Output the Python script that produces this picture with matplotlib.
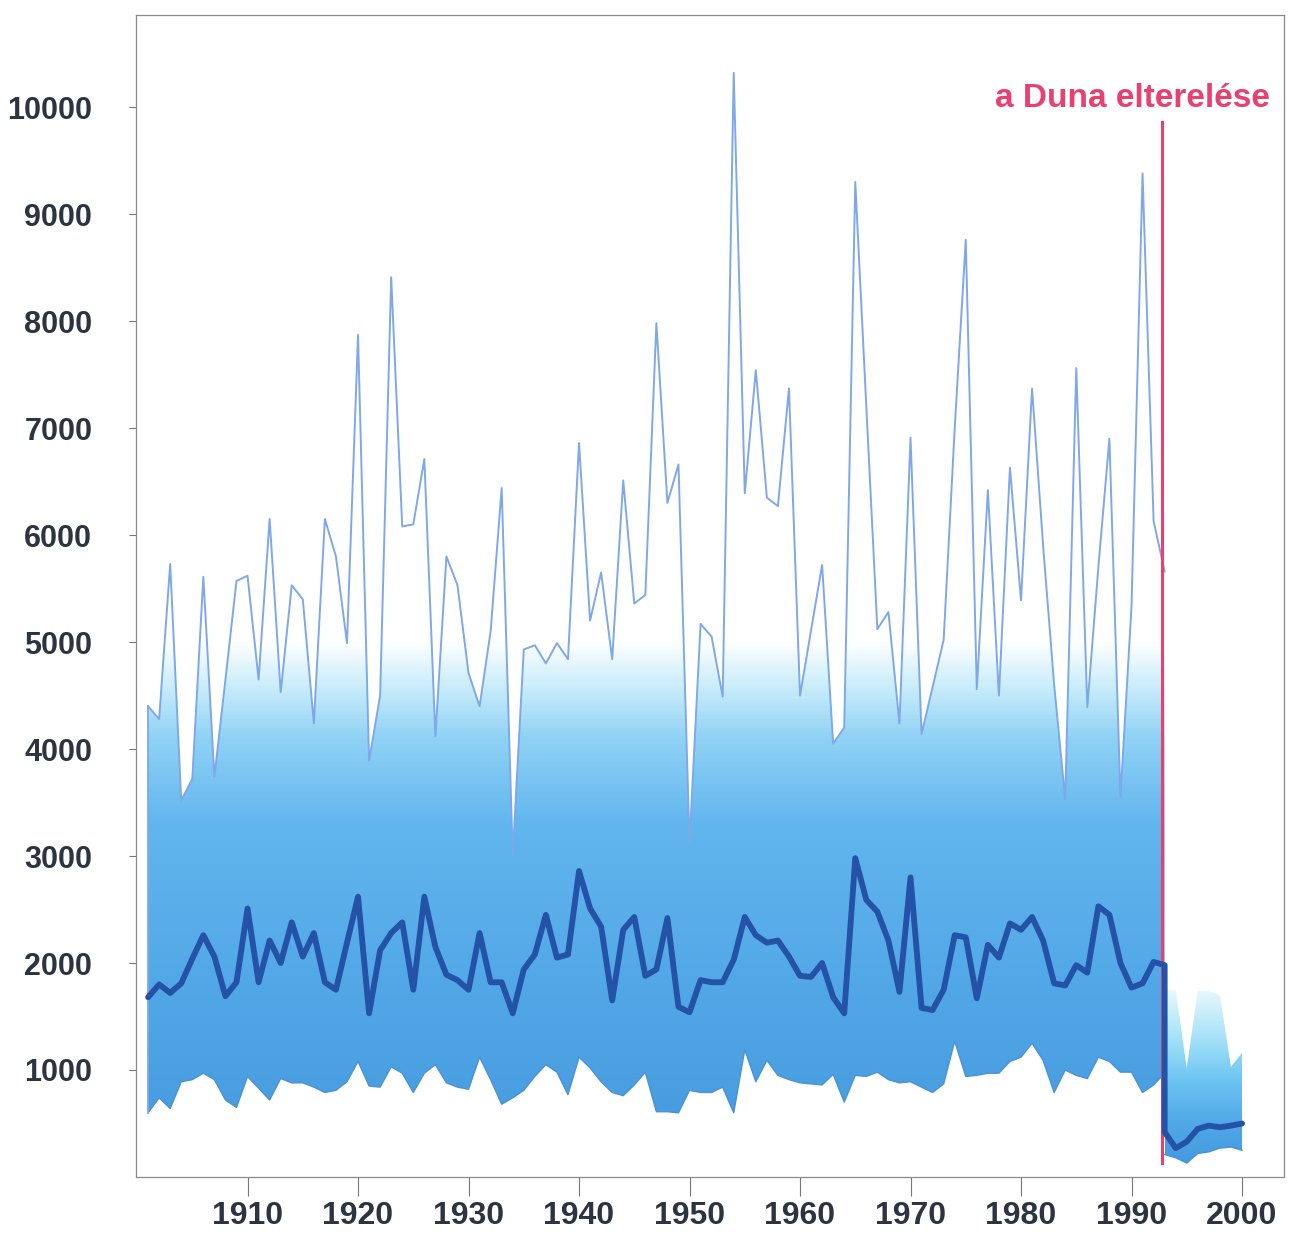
import numpy as np
import matplotlib
matplotlib.use("Agg")
import matplotlib.pyplot as plt
from matplotlib.colors import LinearSegmentedColormap

plt.rcParams['font.family'] = ['Liberation Sans', 'DejaVu Sans']

# ---- data: yearly discharge (m3/s) before the diversion, 1901-1993 ----
years_pre = list(range(1901, 1994))
q_max_pre = [
    4400, 4280, 5730, 3520, 3720, 5610, 3740, 4650, 5570, 5620,
    4650, 6150, 4530, 5530, 5400, 4240, 6150, 5800, 4990, 7870,
    3890, 4500, 8410, 6080, 6100, 6710, 4120, 5800, 5530, 4710,
    4400, 5100, 6440, 3010, 4930, 4970, 4800, 4990, 4840, 6860,
    5200, 5650, 4840, 6510, 5360, 5440, 7980, 6300, 6660, 3120,
    5170, 5050, 4490, 10320, 6390, 7540, 6350, 6270, 7370, 4500,
    5110, 5720, 4050, 4200, 9300, 7200, 5120, 5280, 4240, 6910,
    4140, 4580, 5020, 7000, 8760, 4560, 6420, 4500, 6630, 5390,
    7370, 5900, 4600, 3530, 7560, 4390, 5700, 6900, 3550, 5330,
    9380, 6130, 5660,
]
q_mean_pre = [
    1680, 1800, 1720, 1810, 2040, 2260, 2060, 1690, 1820, 2510,
    1820, 2210, 2000, 2380, 2060, 2280, 1820, 1750, 2190, 2620,
    1530, 2120, 2280, 2380, 1750, 2620, 2150, 1890, 1840, 1750,
    2280, 1820, 1820, 1530, 1940, 2080, 2450, 2050, 2080, 2860,
    2510, 2340, 1650, 2310, 2430, 1880, 1940, 2420, 1590, 1540,
    1840, 1820, 1820, 2030, 2430, 2260, 2190, 2210, 2060, 1880,
    1870, 2000, 1680, 1530, 2980, 2590, 2480, 2210, 1730, 2800,
    1580, 1560, 1750, 2260, 2240, 1670, 2170, 2050, 2370, 2310,
    2430, 2210, 1810, 1790, 1980, 1910, 2530, 2450, 2000, 1770,
    1810, 2010, 1980,
]
q_min_pre = [
    600, 740, 640, 890, 910, 970, 910, 720, 650, 940,
    830, 720, 920, 880, 880, 840, 790, 810, 890, 1080,
    850, 840, 1030, 970, 790, 970, 1050, 880, 840, 820,
    1120, 910, 680, 740, 810, 940, 1050, 980, 770, 1120,
    1020, 890, 790, 760, 860, 980, 610, 610, 600, 810,
    790, 790, 840, 600, 1190, 890, 1090, 950, 910, 880,
    870, 860, 960, 700, 950, 940, 980, 910, 880, 890,
    840, 790, 870, 1270, 940, 950, 970, 970, 1080, 1120,
    1250, 1090, 790, 1000, 950, 920, 1120, 1080, 980, 980,
    790, 860, 970,
]

# ---- data after the diversion, 1993-2000 ----
years_post = list(range(1993, 2001))
q_max_post = [1750, 1750, 1020, 1740, 1740, 1700, 1030, 1160]
q_mean_post = [420, 270, 330, 450, 480, 465, 480, 500]
q_min_post = [210, 180, 130, 220, 235, 270, 280, 250]

y_ticks = [1000, 2000, 3000, 4000, 5000, 6000, 7000, 8000, 9000, 10000]
x_ticks = [1910, 1920, 1930, 1940, 1950, 1960, 1970, 1980, 1990, 2000]
diversion_year = 1992.8
diversion_label = "a Duna elterelése"

MAX_COLOR = '#7ea8ea'
MEAN_COLOR = '#2452a6'
EDGE_COLOR = '#4a92d8'
RED = '#e8416f'
TEXT = '#2d3441'

fig = plt.figure(figsize=(12.92, 12.34), dpi=100)
ax = fig.add_axes([0.1053, 0.0462, 0.8885, 0.9416])


def gradient_area(ax, x, lo, hi, stops, vtop, zorder):
    """Fill between lo and hi with a vertical colour gradient."""
    poly = ax.fill_between(x, lo, hi, facecolor='none', edgecolor='none')
    path = poly.get_paths()[0]
    cmap = LinearSegmentedColormap.from_list(
        'grad', [(v / vtop, c) for v, c in stops])
    vals = np.linspace(0, 1, 600)
    img = cmap(vals)[:, None, :]
    im = ax.imshow(img, extent=[min(x), max(x), 0, vtop], origin='lower',
                   aspect='auto', zorder=zorder, interpolation='bilinear')
    im.set_clip_path(path, transform=ax.transData)


pre_top = max(q_max_pre)
gradient_area(ax, years_pre, q_min_pre, q_max_pre,
              [(0, '#4398dc'), (1500, '#4fa5e5'), (3300, '#62b6ee'),
               (4100, '#90d2f5'), (4600, '#cdeefb'), (5000, '#ffffff'),
               (pre_top, '#ffffff')],
              pre_top, zorder=1)

post_top = max(q_max_post)
gradient_area(ax, years_post, q_min_post, q_max_post,
              [(0, '#3f95dc'), (500, '#50a8e7'), (900, '#6cc4f1'),
               (1300, '#a6e2f8'), (post_top, '#eaf8fd')],
              post_top, zorder=1)

# lower edges of the shaded ranges
ax.plot(years_pre, q_min_pre, color=EDGE_COLOR, lw=1.0, zorder=2)
ax.plot(years_post, q_min_post, color=EDGE_COLOR, lw=1.0, zorder=2)

# yearly maximum
ax.plot([years_pre[0], years_pre[0]], [q_min_pre[0], q_max_pre[0]],
        color=MAX_COLOR, lw=1.3, zorder=3)
ax.plot(years_pre, q_max_pre, color=MAX_COLOR, lw=1.4, zorder=3)

# diversion marker
ax.plot([diversion_year, diversion_year], [130, 9860], color=RED, lw=2.2,
        zorder=4)
ax.text(1990.1, 10000, diversion_label, color=RED, fontsize=24,
        fontweight='bold', ha='center', va='baseline', zorder=6)

# yearly mean
ax.plot(years_pre + years_post, q_mean_pre + q_mean_post, color=MEAN_COLOR,
        lw=4.2, solid_joinstyle='round', solid_capstyle='round', zorder=5)

ax.set_xlim(1899.91, 2003.8)
ax.set_ylim(0, 10860)
ax.set_xticks(x_ticks)
ax.set_xticklabels([str(v) for v in x_ticks])
ax.set_yticks(y_ticks)
ax.set_yticklabels([str(v) for v in y_ticks])

ax.tick_params(axis='y', length=5, width=0.8, color='#777777', pad=26.5,
               labelsize=22, labelcolor=TEXT)
ax.tick_params(axis='x', length=14, width=0.8, color='#777777', pad=3,
               labelsize=23, labelcolor=TEXT)
for lab in ax.get_xticklabels() + ax.get_yticklabels():
    lab.set_fontweight('bold')

for sp in ax.spines.values():
    sp.set_color('#8a8a8a')
    sp.set_linewidth(0.9)

ax.set_facecolor('white')
fig.patch.set_facecolor('white')

fig.savefig('out.png', dpi=100, facecolor='white')
